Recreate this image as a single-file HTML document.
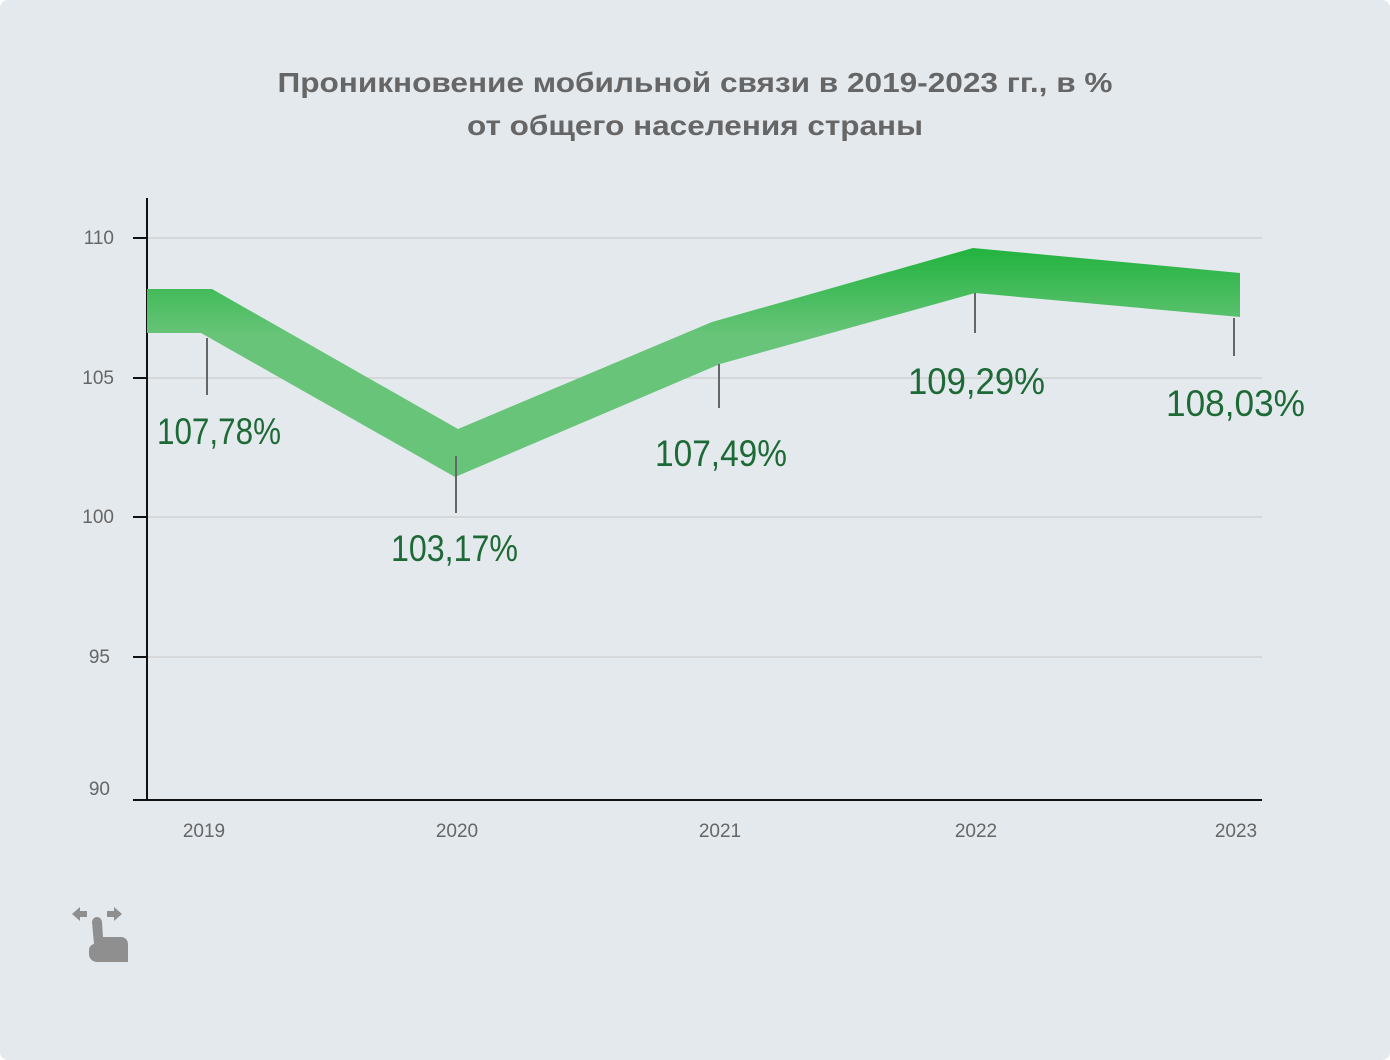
<!DOCTYPE html>
<html><head><meta charset="utf-8"><style>
html,body{margin:0;padding:0;background:#fff;}
.wrap{width:1390px;height:1060px;background:#e4e9ed;border-radius:8px;overflow:hidden;}
svg text{font-family:"Liberation Sans","DejaVu Sans",sans-serif;}
</style></head><body><div class="wrap">
<svg width="1390" height="1060" viewBox="0 0 1390 1060" xmlns="http://www.w3.org/2000/svg">
<defs>
<linearGradient id="g" gradientUnits="userSpaceOnUse" x1="0" y1="248" x2="0" y2="335">
<stop offset="0" stop-color="#22b33f"/><stop offset="1" stop-color="#67c478"/>
</linearGradient>
</defs>
<text x="695" y="92" text-anchor="middle" font-size="28" font-weight="bold" fill="#666" textLength="835" lengthAdjust="spacingAndGlyphs">Проникновение мобильной связи в 2019-2023 гг., в %</text>
<text x="695" y="135" text-anchor="middle" font-size="28" font-weight="bold" fill="#666" textLength="456" lengthAdjust="spacingAndGlyphs">от общего населения страны</text>
<g stroke="#d5d7d9" stroke-width="2">
<line x1="147" y1="238" x2="1262" y2="238"/>
<line x1="147" y1="378" x2="1262" y2="378"/>
<line x1="147" y1="517" x2="1262" y2="517"/>
<line x1="147" y1="657" x2="1262" y2="657"/>
</g>
<g stroke="#111" stroke-width="2">
<line x1="147" y1="198" x2="147" y2="801"/>
<line x1="133" y1="800" x2="1262" y2="800"/>
<line x1="133" y1="238" x2="147" y2="238"/>
<line x1="133" y1="378" x2="147" y2="378"/>
<line x1="133" y1="517" x2="147" y2="517"/>
<line x1="133" y1="657" x2="147" y2="657"/>
</g>
<g font-size="19" fill="#666" text-anchor="end">
<text x="114" y="244">110</text>
<text x="114" y="384">105</text>
<text x="114" y="523">100</text>
<text x="110" y="663">95</text>
<text x="110" y="795">90</text>
</g>
<g font-size="19" fill="#666" text-anchor="middle">
<text x="204" y="837">2019</text>
<text x="457" y="837">2020</text>
<text x="720" y="837">2021</text>
<text x="976" y="837">2022</text>
<text x="1236" y="837">2023</text>
</g>
<polygon fill="url(#g)" points="147,289 212,289 458,429 712,322 973,248 1240,273 1240,317 975,293 720,364 455,477 201,333 147,333"/>
<g stroke="#666" stroke-width="2">
<line x1="207" y1="338" x2="207" y2="395"/>
<line x1="456" y1="456" x2="456" y2="513"/>
<line x1="719" y1="364" x2="719" y2="408"/>
<line x1="975" y1="293" x2="975" y2="333"/>
<line x1="1234" y1="318" x2="1234" y2="356"/>
</g>
<g font-size="37" fill="#1d6a37">
<text x="157" y="444" textLength="124" lengthAdjust="spacingAndGlyphs">107,78%</text>
<text x="391" y="561" textLength="127" lengthAdjust="spacingAndGlyphs">103,17%</text>
<text x="655" y="466" textLength="132" lengthAdjust="spacingAndGlyphs">107,49%</text>
<text x="908" y="394" textLength="137" lengthAdjust="spacingAndGlyphs">109,29%</text>
<text x="1166" y="416" textLength="139" lengthAdjust="spacingAndGlyphs">108,03%</text>
</g>
<g fill="#8f8f8f">
<polygon points="72,914 80,907 80,911 87,911 87,917 80,917 80,921"/>
<polygon points="122,914 114,907 114,911 107,911 107,917 114,917 114,921"/>
<path d="M92,922 a5,5 0 0 1 10,0 L103,937 L121,937 a7,7 0 0 1 7,7 L128,962 L97,962 a8,8 0 0 1 -8,-8 L89,950 a6,6 0 0 1 5,-6 Z"/>
</g>
</svg>
</div></body></html>
